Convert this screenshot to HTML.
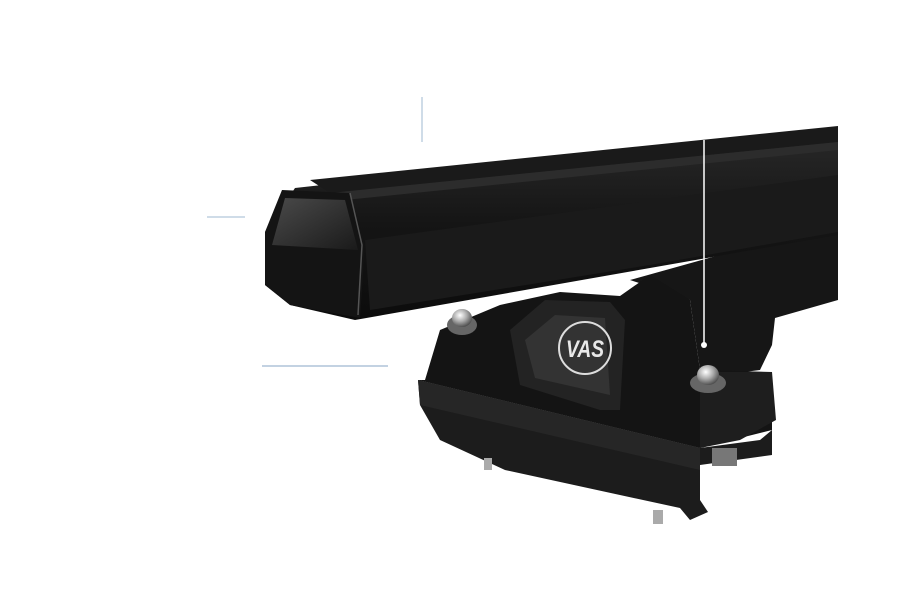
<!DOCTYPE html>
<html><head><meta charset="utf-8"><style>
html,body{margin:0;padding:0;background:#fff;width:900px;height:600px;overflow:hidden}
svg{display:block}
</style></head><body>
<svg width="900" height="600" viewBox="0 0 900 600" xmlns="http://www.w3.org/2000/svg">
<defs>
<linearGradient id="bar" x1="0" y1="0" x2="0" y2="1">
<stop offset="0" stop-color="#2a2a2a"/><stop offset="0.5" stop-color="#151515"/><stop offset="1" stop-color="#0c0c0c"/>
</linearGradient>
<linearGradient id="cap" x1="0" y1="0" x2="1" y2="1">
<stop offset="0" stop-color="#4a4a4a"/><stop offset="1" stop-color="#1a1a1a"/>
</linearGradient>
<radialGradient id="bolt" cx="0.4" cy="0.35" r="0.7">
<stop offset="0" stop-color="#fff"/><stop offset="0.5" stop-color="#aaa"/><stop offset="1" stop-color="#444"/>
</radialGradient>
</defs>
<line x1="422" y1="97" x2="422" y2="142" stroke="#9fb8d0" stroke-width="1"/>
<line x1="207" y1="217" x2="245" y2="217" stroke="#9fb8d0" stroke-width="1"/>
<line x1="262" y1="366" x2="388" y2="366" stroke="#9fb8d0" stroke-width="1.2"/>
<!-- right leg / tower -->
<path d="M630,280 L838,222 L838,300 L775,318 L772,345 L760,370 L720,375 L700,370 L690,300 Z" fill="#161616"/>
<!-- foot lower plate -->
<path d="M418,380 L700,448 L760,440 L772,430 L772,455 L700,465 L700,500 L708,512 L690,520 L680,508 L505,470 L440,440 L420,405 Z" fill="#1c1c1c"/>
<path d="M418,380 L700,448 L700,470 L420,405 Z" fill="#262626"/>
<!-- foot main body -->
<path d="M425,380 L440,330 L500,305 L560,292 L620,296 L650,275 L690,300 L700,370 L772,372 L772,430 L700,448 L418,380 Z" fill="#141414"/>
<path d="M510,330 L545,300 L610,302 L625,320 L620,410 L600,410 L520,385 Z" fill="#232323"/>
<path d="M525,340 L555,315 L605,318 L610,395 L535,378 Z" fill="#333"/>
<circle cx="585" cy="348" r="26" fill="none" stroke="#ddd" stroke-width="2"/>
<text x="585" y="357" font-family="Liberation Sans Narrow, Liberation Sans, sans-serif" font-size="24" font-weight="bold" font-style="italic" fill="#e8e8e8" text-anchor="middle" textLength="38" lengthAdjust="spacingAndGlyphs">VAS</text>
<path d="M700,372 L772,372 L776,420 L740,440 L700,448 Z" fill="#1e1e1e"/>
<rect x="712" y="448" width="25" height="18" fill="#777"/>
<rect x="484" y="458" width="8" height="12" fill="#aaa"/>
<rect x="653" y="510" width="10" height="14" fill="#aaa"/>
<ellipse cx="462" cy="325" rx="15" ry="10" fill="#666"/>
<ellipse cx="462" cy="318" rx="10" ry="9" fill="url(#bolt)"/>
<ellipse cx="708" cy="383" rx="18" ry="10" fill="#666"/>
<ellipse cx="708" cy="375" rx="11" ry="10" fill="url(#bolt)"/>
<!-- bar -->
<path d="M295,188 L838,128 L838,235 L650,268 L355,320 L290,305 L265,285 L265,232 Z" fill="url(#bar)"/>
<path d="M310,180 L838,126 L838,142 L330,193 Z" fill="#1a1a1a"/>
<path d="M330,193 L838,142 L838,150 L345,200 Z" fill="#2c2c2c"/>
<path d="M365,240 L838,175 L838,232 L650,265 L370,310 Z" fill="#1a1a1a"/>
<path d="M282,190 L350,193 L365,245 L360,318 L290,305 L265,285 L265,232 Z" fill="#141414"/>
<path d="M285,198 L345,200 L358,250 L272,245 Z" fill="url(#cap)"/>
<path d="M350,193 L362,245 L358,315" fill="none" stroke="#555" stroke-width="1.5"/>
<line x1="704" y1="140" x2="704" y2="345" stroke="#fff" stroke-width="1.5"/>
<circle cx="704" cy="345" r="3" fill="#fff"/>
</svg>
</body></html>
